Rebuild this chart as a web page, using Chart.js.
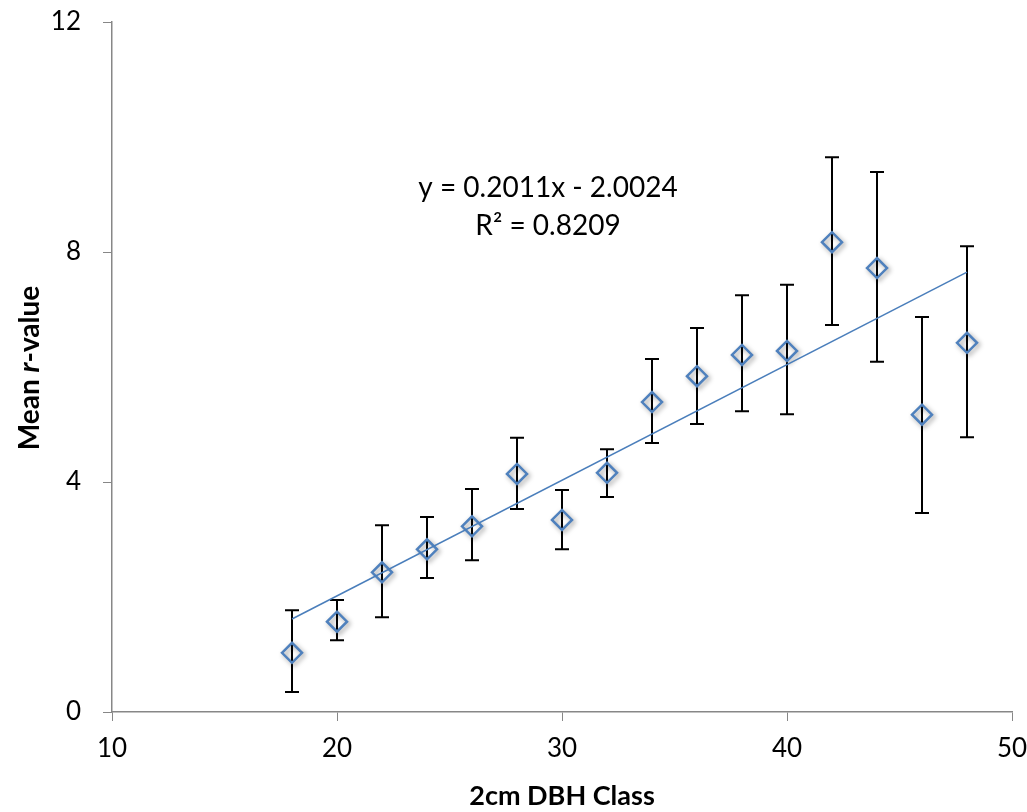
<!DOCTYPE html>
<html lang="en">
<head>
    <meta charset="UTF-8">
    <title>Mean r-value by 2cm DBH Class</title>
    <script src="https://cdn.jsdelivr.net/npm/chart.js"></script>
    <style>
        body {
            margin: 0;
            background-color: white;
        }
        #chartBox {
            width: 1027px;
            height: 812px;
        }
    </style>
</head>
<body>
    <div id="chartBox">
        <canvas id="scatterChart" width="1027" height="812"></canvas>
    </div>

    <script>
        // DBH classes (cm) and mean r-values
        const dbhClass = [18, 20, 22, 24, 26, 28, 30, 32, 34, 36, 38, 40, 42, 44, 46, 48];
        const meanR    = [1.03, 1.57, 2.43, 2.83, 3.23, 4.14, 3.34, 4.16, 5.39, 5.84, 6.21, 6.28, 8.17, 7.72, 5.17, 6.42];
        // error bar ends
        const errUpper = [1.77, 1.95, 3.25, 3.39, 3.88, 4.77, 3.86, 4.57, 6.14, 6.68, 7.25, 7.43, 9.65, 9.39, 6.87, 8.10];
        const errLower = [0.35, 1.25, 1.65, 2.33, 2.64, 3.53, 2.83, 3.74, 4.68, 5.01, 5.23, 5.18, 6.73, 6.09, 3.46, 4.78];

        // linear trendline as printed on the chart
        const slope = 0.2011;
        const intercept = -2.0024;
        const rSquared = '0.8209';
        const trendX = [18, 48];

        const xTicks = [10, 20, 30, 40, 50];
        const yTicks = [0, 4, 8, 12];

        const axisGrey = '#878787';
        const fontFam = 'Lato, "Open Sans", sans-serif';

        const points = dbhClass.map((x, i) => ({ x: x, y: meanR[i] }));
        const trendPts = trendX.map(x => ({ x: x, y: slope * x + intercept }));

        // error bars, drawn under the markers
        const errorBars = {
            id: 'errorBars',
            beforeDatasetsDraw(chart) {
                const { ctx, scales: { x, y } } = chart;
                ctx.save();
                ctx.strokeStyle = '#000';
                ctx.lineWidth = 2;
                dbhClass.forEach((d, i) => {
                    const px = x.getPixelForValue(d);
                    const top = y.getPixelForValue(errUpper[i]);
                    const bot = y.getPixelForValue(errLower[i]);
                    ctx.beginPath();
                    ctx.moveTo(px, top); ctx.lineTo(px, bot);
                    ctx.moveTo(px - 7, top); ctx.lineTo(px + 7, top);
                    ctx.moveTo(px - 7, bot); ctx.lineTo(px + 7, bot);
                    ctx.stroke();
                });
                ctx.restore();
            }
        };

        // soft shadow behind the diamond markers
        const markerShadow = {
            id: 'markerShadow',
            beforeDatasetDraw(chart, args) {
                if (args.index !== 1) return;
                const ctx = chart.ctx;
                ctx.save();
                ctx.shadowColor = 'rgba(0,0,0,0.4)';
                ctx.shadowBlur = 5;
                ctx.shadowOffsetX = 2;
                ctx.shadowOffsetY = 2;
            },
            afterDatasetDraw(chart, args) {
                if (args.index !== 1) return;
                chart.ctx.restore();
            }
        };

        // equation label and y axis title (with italic r)
        const labels = {
            id: 'labels',
            afterDraw(chart) {
                const { ctx, chartArea } = chart;
                ctx.save();
                ctx.fillStyle = '#000';
                ctx.font = '28px ' + fontFam;
                ctx.textAlign = 'center';
                ctx.textBaseline = 'middle';
                const cx = 548;
                ctx.fillText('y = ' + slope + 'x - ' + Math.abs(intercept).toFixed(4), cx, 188);
                ctx.fillText('R\u00b2 = ' + rSquared, cx, 226);

                // rotated y title
                ctx.translate(30, (chartArea.top + chartArea.bottom) / 2 + 1);
                ctx.rotate(-Math.PI / 2);
                const parts = [
                    ['bold 28px ' + fontFam, 'Mean '],
                    ['italic bold 28px ' + fontFam, 'r'],
                    ['bold 28px ' + fontFam, '-value']
                ];
                let total = 0;
                parts.forEach(p => { ctx.font = p[0]; total += ctx.measureText(p[1]).width; });
                let pos = -total / 2;
                ctx.textAlign = 'left';
                parts.forEach(p => {
                    ctx.font = p[0];
                    ctx.fillText(p[1], pos, 0);
                    pos += ctx.measureText(p[1]).width;
                });
                ctx.restore();
            }
        };

        const ctx = document.getElementById('scatterChart').getContext('2d');
        new Chart(ctx, {
            type: 'scatter',
            data: {
                datasets: [
                    {
                        type: 'line',
                        label: 'Linear trend',
                        data: trendPts,
                        borderColor: '#4A7EBB',
                        borderWidth: 1.5,
                        pointRadius: 0,
                        fill: false
                    },
                    {
                        label: 'Mean r-value',
                        data: points,
                        pointStyle: 'rectRot',
                        pointRadius: 10,
                        pointBorderWidth: 2.5,
                        pointBorderColor: '#4F81BD',
                        pointBackgroundColor: 'rgba(255,255,255,0)'
                    }
                ]
            },
            options: {
                responsive: false,
                animation: false,
                layout: {
                    padding: { top: 22, right: 15, bottom: 0, left: 0 }
                },
                plugins: {
                    legend: { display: false },
                    tooltip: { enabled: false }
                },
                scales: {
                    x: {
                        type: 'linear',
                        min: 10,
                        max: 50,
                        afterBuildTicks: s => { s.ticks = xTicks.map(v => ({ value: v })); },
                        afterFit: s => {
                            s.height = 100;
                            s.paddingLeft = 0;
                            s.paddingRight = 0;
                        },
                        grid: {
                            drawOnChartArea: false,
                            drawTicks: true,
                            tickLength: 9,
                            color: axisGrey
                        },
                        border: { color: axisGrey, width: 1.5 },
                        ticks: {
                            color: '#000',
                            padding: 12,
                            maxRotation: 0,
                            font: { family: fontFam, size: 26 }
                        },
                        title: {
                            display: true,
                            text: '2cm DBH Class',
                            color: '#000',
                            padding: { top: 6, bottom: 0 },
                            font: { family: fontFam, size: 27, weight: 'bold' }
                        }
                    },
                    y: {
                        min: 0,
                        max: 12,
                        afterBuildTicks: s => { s.ticks = yTicks.map(v => ({ value: v })); },
                        afterFit: s => {
                            s.width = 112;
                            s.paddingTop = 0;
                            s.paddingBottom = 0;
                        },
                        grid: {
                            drawOnChartArea: false,
                            drawTicks: true,
                            tickLength: 9,
                            color: axisGrey
                        },
                        border: { color: axisGrey, width: 1.5 },
                        ticks: {
                            color: '#000',
                            padding: 22,
                            font: { family: fontFam, size: 26 }
                        }
                    }
                }
            },
            plugins: [errorBars, markerShadow, labels]
        });
    </script>
</body>
</html>
